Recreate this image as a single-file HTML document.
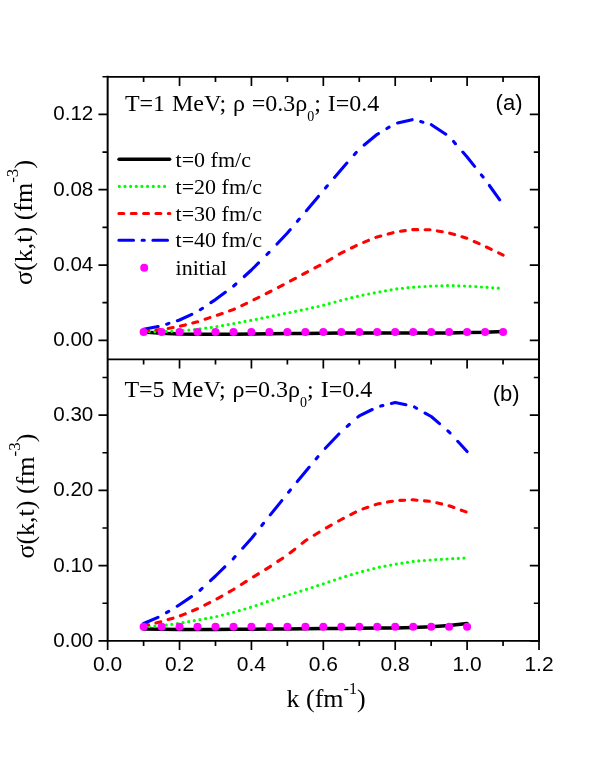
<!DOCTYPE html>
<html><head><meta charset="utf-8"><title>sigma(k,t)</title>
<style>html,body{margin:0;padding:0;background:#fff}svg{display:block;will-change:transform;opacity:.999}.s{font-family:"Liberation Sans",sans-serif}.r{font-family:"Liberation Serif",serif}</style></head><body>
<svg width="599" height="763" viewBox="0 0 599 763">
<rect width="599" height="763" fill="#fff"/>
<g fill="none" stroke-linecap="round" stroke-linejoin="round">
<polyline stroke="#000" stroke-width="3.5" points="143.6,332.0 161.6,333.2 179.5,334.0 197.5,334.3 215.5,334.3 233.5,334.2 251.4,334.0 269.4,333.8 287.4,333.6 305.4,333.4 323.3,333.2 341.3,333.1 359.3,333.0 377.2,333.0 395.2,333.0 413.2,333.0 431.2,333.0 449.1,332.9 467.1,332.6 485.1,332.2 503.1,331.4"/>
<path stroke="#00ff00" stroke-width="3.2" d="M143.6 331.5L143.6 331.5M149.2 331.5L149.2 331.5M154.9 331.6L154.9 331.6M154.9 331.6L154.9 331.6M160.5 331.6L160.5 331.6M160.5 331.6L160.6 331.6M166.2 331.4L166.2 331.4M171.8 331.3L171.8 331.3M171.8 331.3L171.8 331.3M177.5 331.1L177.5 331.1M183.1 330.6L183.1 330.6M183.1 330.6L183.1 330.6M188.8 330.1L188.8 330.1M188.8 330.1L188.8 330.1M194.4 329.5L194.4 329.5M200.0 328.9L200.0 328.9M205.7 328.1L205.7 328.1M205.7 328.1L205.7 328.1M211.3 327.4L211.3 327.4M211.3 327.4L211.3 327.4M216.9 326.6L216.9 326.6M222.5 325.6L222.5 325.6M222.5 325.6L222.6 325.6M228.2 324.6L228.2 324.6M228.2 324.6L228.2 324.6M233.8 323.6L233.8 323.6M239.4 322.5L239.4 322.5M239.4 322.5L239.4 322.5M245.0 321.4L245.0 321.4M250.7 320.4L250.7 320.3M256.3 319.3L256.3 319.3M256.3 319.3L256.3 319.3M261.9 318.2L261.9 318.2M267.5 317.1L267.5 317.1M267.5 317.1L267.5 317.1M273.2 315.9L273.2 315.9M278.8 314.8L278.8 314.8M278.8 314.8L278.8 314.8M284.4 313.6L284.4 313.6M284.4 313.6L284.4 313.6M290.0 312.5L290.0 312.5M295.6 311.3L295.6 311.3M301.3 310.1L301.3 310.1M306.9 309.0L306.9 309.0M306.9 309.0L306.9 309.0M312.5 307.7L312.5 307.7M312.5 307.7L312.5 307.7M318.1 306.5L318.1 306.5M318.1 306.5L318.1 306.5M323.7 305.2L323.7 305.2M329.3 303.6L329.3 303.6M335.0 302.1L335.0 302.1M335.0 302.1L335.0 302.1M340.6 300.5L340.6 300.5M340.6 300.5L340.6 300.5M346.2 299.1L346.2 299.1M346.2 299.1L346.2 299.1M351.8 297.7L351.8 297.7M357.4 296.3L357.4 296.3M363.0 295.1L363.0 295.1M368.7 294.0L368.7 294.0M368.7 294.0L368.7 294.0M374.3 292.9L374.3 292.9M374.3 292.9L374.3 292.9M379.9 291.8L379.9 291.8M385.5 290.8L385.5 290.8M391.1 289.8L391.1 289.8M396.8 288.9L396.8 288.9M396.8 288.9L396.8 288.9M402.4 288.3L402.4 288.3M402.4 288.3L402.4 288.3M408.0 287.7L408.0 287.7M413.7 287.2L413.7 287.2M419.3 286.8L419.3 286.8M419.3 286.8L419.3 286.8M425.0 286.5L425.0 286.5M430.6 286.1L430.6 286.1M430.6 286.1L430.6 286.1M436.3 286.0L436.3 286.0M441.9 285.8L441.9 285.8M447.5 285.6L447.5 285.6M447.5 285.6L447.6 285.6M453.2 285.7L453.2 285.7M458.8 285.9L458.8 285.9M458.8 285.9L458.8 285.9M464.5 286.0L464.5 286.0M470.1 286.3L470.1 286.3M475.8 286.6L475.8 286.6M475.8 286.6L475.8 286.6M481.4 287.0L481.4 287.0M487.0 287.3L487.1 287.3M487.1 287.3L487.1 287.3M492.7 287.8L492.7 287.8M498.3 288.2L498.3 288.2M498.3 288.2L498.3 288.2"/>
<path stroke="#ff0000" stroke-width="3.1" d="M143.6 331.0L148.5 330.6M155.9 330.0L160.8 329.6M160.8 329.6L160.8 329.6M168.2 328.4L173.1 327.5M173.1 327.5L173.1 327.5M180.5 326.1L185.4 324.9M185.4 324.9L185.4 324.9M192.8 322.9L197.5 321.7L197.7 321.7M197.7 321.7L197.7 321.7M205.1 319.2L209.9 317.6M209.9 317.6L209.9 317.6M217.3 315.2L222.2 313.5M229.5 310.9L233.5 309.5L234.4 309.1M234.4 309.1L234.4 309.1M241.8 305.6L246.6 303.3M254.0 299.7L258.8 297.3M258.8 297.3L258.8 297.3M266.2 293.6L269.4 292.0L271.0 291.2M271.0 291.2L271.0 291.2M278.4 287.3L283.2 284.8M290.5 280.9L295.4 278.3M302.7 274.4L305.4 273.0L307.6 271.8M307.6 271.8L307.6 271.8M314.9 267.9L319.8 265.4M319.8 265.4L319.8 265.4M327.1 261.3L331.9 258.5M339.3 254.2L341.3 253.0L344.1 251.6M351.5 248.0L356.3 245.6M356.3 245.6L356.3 245.6M363.7 242.4L368.5 240.4M368.5 240.4L368.5 240.4M375.9 237.4L377.2 236.9L380.8 236.0M388.2 234.0L393.0 232.7M400.5 231.3L405.3 230.6M412.8 229.6L413.2 229.5L417.7 229.6M417.7 229.6L417.7 229.6M425.1 229.7L430.0 229.8M437.4 230.9L442.3 231.8M442.3 231.8L442.3 231.8M449.7 233.2L454.6 234.6M454.6 234.6L454.6 234.6M462.0 236.8L466.8 238.2M474.2 241.5L479.1 243.6M479.1 243.6L479.1 243.6M486.4 247.0L491.3 249.3M498.6 252.9L503.1 255.1"/>
<path stroke="#0000ff" stroke-width="3.1" d="M143.6 329.2L158.1 326.5M166.7 324.2L168.9 323.4M177.4 320.7L179.5 320.0L191.8 314.3M200.3 309.7L202.5 308.3M210.9 302.6L215.5 299.6L225.3 292.3M225.3 292.3L225.3 292.3M233.7 286.0L235.9 284.0M244.3 276.5L251.4 270.0L258.5 262.9M258.5 262.9L258.5 262.9M266.9 254.5L269.0 252.4M277.0 244.0L287.4 233.0L290.2 229.7M290.2 229.7L290.2 229.7M297.4 221.3L299.3 219.1M306.4 210.7L318.4 196.4M318.4 196.4L318.4 196.4M325.5 188.0L327.3 185.8M334.5 177.4L341.3 169.5L346.9 163.1M346.9 163.1L346.9 163.1M354.3 154.7L356.2 152.5M364.2 145.0L377.2 134.3L378.5 133.6M378.5 133.6L378.5 133.6M386.9 128.5L389.1 127.2M389.1 127.2L389.1 127.2M397.6 123.0L412.1 119.7M420.7 121.6L422.9 122.2M422.9 122.2L422.9 122.2M431.4 124.7L445.8 134.2M453.6 141.5L455.4 143.7M455.4 143.7L455.5 143.7M462.8 152.1L467.1 157.0L474.6 166.4M481.4 174.9L483.1 177.0M483.1 177.0L483.1 177.0M489.4 185.5L499.7 199.8"/>
<polyline stroke="#000" stroke-width="3.5" points="143.6,628.9 161.6,629.3 179.5,629.4 197.5,629.4 215.5,629.4 233.5,629.3 251.4,629.2 269.4,629.1 287.4,629.0 305.4,628.8 323.3,628.6 341.3,628.4 359.3,628.2 377.2,628.1 395.2,628.0 413.2,627.5 431.2,626.7 449.1,625.4 467.1,623.4"/>
<path stroke="#00ff00" stroke-width="3.2" d="M143.6 626.5L143.6 626.5M149.2 626.3L149.2 626.3M154.9 626.1L154.9 626.1M154.9 626.1L154.9 626.1M160.5 625.8L160.5 625.8M160.5 625.8L160.5 625.8M166.2 625.1L166.2 625.1M171.8 624.3L171.8 624.3M171.8 624.3L171.8 624.3M177.4 623.5L177.4 623.5M183.0 622.6L183.0 622.6M183.0 622.6L183.1 622.6M188.7 621.7L188.7 621.7M188.7 621.7L188.7 621.7M194.3 620.7L194.3 620.7M199.9 619.7L199.9 619.7M205.6 618.7L205.6 618.7M205.6 618.7L205.6 618.7M211.2 617.6L211.2 617.6M211.2 617.6L211.2 617.6M216.8 616.5L216.8 616.5M222.4 615.1L222.4 615.1M222.4 615.1L222.4 615.1M228.0 613.7L228.0 613.7M228.0 613.7L228.0 613.7M233.6 612.3L233.6 612.3M239.2 610.7L239.3 610.7M239.3 610.7L239.3 610.7M244.9 609.0L244.9 609.0M250.5 607.3L250.5 607.3M256.1 605.5L256.1 605.5M256.1 605.5L256.1 605.5M261.7 603.6L261.7 603.6M267.3 601.7L267.3 601.7M267.3 601.7L267.3 601.7M272.9 599.9L272.9 599.9M278.5 598.1L278.5 598.1M278.5 598.1L278.5 598.1M284.1 596.3L284.1 596.3M284.1 596.3L284.1 596.3M289.7 594.5L289.7 594.5M295.3 592.8L295.3 592.8M300.9 591.1L300.9 591.1M306.5 589.3L306.5 589.3M306.5 589.3L306.5 589.3M312.1 587.5L312.1 587.5M312.1 587.5L312.1 587.5M317.7 585.6L317.7 585.6M317.7 585.6L317.7 585.6M323.3 583.8L323.3 583.8M328.9 581.9L328.9 581.9M334.5 580.1L334.5 580.1M334.5 580.1L334.5 580.1M340.1 578.2L340.1 578.2M340.1 578.2L340.1 578.2M345.7 576.4L345.7 576.4M345.7 576.4L345.8 576.4M351.4 574.7L351.4 574.7M357.0 573.0L357.0 573.0M362.6 571.4L362.6 571.4M368.2 570.0L368.2 570.0M368.2 570.0L368.2 570.0M373.8 568.5L373.8 568.5M373.8 568.5L373.8 568.5M379.4 567.2L379.4 567.2M385.0 566.2L385.0 566.2M390.7 565.1L390.7 565.1M396.3 564.1L396.3 564.1M396.3 564.1L396.3 564.1M401.9 563.2L401.9 563.2M401.9 563.2L401.9 563.2M407.5 562.3L407.5 562.3M413.2 561.4L413.2 561.4M418.8 560.9L418.8 560.9M418.8 560.9L418.8 560.9M424.4 560.5L424.4 560.5M430.1 560.0L430.1 560.0M430.1 560.0L430.1 560.0M435.7 559.6L435.7 559.6M441.4 559.3L441.4 559.3M447.0 559.0L447.0 559.0M447.0 559.0L447.0 559.0M452.7 558.7L452.7 558.7M458.3 558.4L458.3 558.4M458.3 558.4L458.3 558.4M463.9 558.1L463.9 558.1"/>
<path stroke="#ff0000" stroke-width="3.1" d="M143.6 625.8L148.5 624.7M155.9 622.9L160.7 621.8M160.7 621.8L160.8 621.8M168.1 619.6L173.0 618.2M173.0 618.2L173.0 618.2M180.4 615.8L185.2 613.9M185.2 613.9L185.3 613.9M192.6 610.8L197.5 608.8M197.5 608.8L197.5 608.8M204.8 605.1L209.7 602.6M209.7 602.6L209.7 602.6M217.0 598.8L221.9 596.1M229.2 591.9L233.5 589.5L234.0 589.1M234.0 589.1L234.0 589.1M241.4 584.5L246.2 581.4M253.5 576.8L258.3 573.9M258.3 573.9L258.4 573.9M265.7 569.4L269.4 567.1L270.5 566.4M270.5 566.4L270.5 566.4M277.8 561.4L282.7 558.2M290.0 552.9L294.8 549.2M302.1 543.4L305.4 540.8L306.9 539.8M306.9 539.8L306.9 539.8M314.2 535.2L319.1 532.2M319.1 532.2L319.1 532.2M326.4 527.8L331.2 525.1M338.6 521.0L341.3 519.5L343.4 518.4M350.8 514.6L355.6 512.1M355.6 512.1L355.6 512.1M363.0 508.9L367.8 507.3M367.8 507.3L367.8 507.3M375.2 504.8L377.2 504.1L380.1 503.5M387.5 502.1L392.4 501.2M399.8 500.4L404.7 500.2M412.1 499.8L413.2 499.8L417.0 500.2M417.0 500.2L417.0 500.2M424.5 500.9L429.4 501.3M436.8 502.8L441.6 503.9M441.6 503.9L441.7 503.9M449.0 505.7L449.1 505.7L453.9 507.5M453.9 507.5L453.9 507.5M461.3 510.2L466.1 511.9"/>
<path stroke="#0000ff" stroke-width="3.1" d="M143.6 623.5L158.0 617.3M166.5 612.7L168.7 611.4M177.2 606.2L179.5 604.7L191.5 596.6M200.0 590.3L202.1 588.3M210.5 580.6L215.5 576.0L224.8 566.9M224.8 566.9L224.8 566.9M233.2 558.8L233.5 558.5L235.1 556.6M242.7 548.2L251.4 538.5L255.1 533.9M255.1 533.9L255.1 533.9M261.8 525.5L263.5 523.3M270.3 514.9L281.8 500.6M281.8 500.6L281.8 500.6M288.6 492.2L290.4 490.0M297.3 481.6L305.4 471.7L309.1 467.3M309.1 467.3L309.1 467.3M316.1 458.9L317.9 456.7M325.3 448.3L338.9 434.0M338.9 434.0L338.9 434.0M347.2 426.4L349.3 424.5M357.8 417.1L359.3 415.8L372.2 409.5M372.2 409.5L372.2 409.5M380.7 406.1L382.9 405.6M382.9 405.6L382.9 405.6M391.4 403.4L395.2 402.4L405.9 404.7M414.5 407.0L416.6 408.3M416.6 408.3L416.6 408.3M425.1 413.1L431.2 416.5L439.5 423.7M447.9 430.9L449.1 432.0L450.0 432.9M450.0 432.9L450.0 432.9M457.7 441.3L467.1 451.5"/>
<path stroke="#000" stroke-width="3.6" d="M119.1 159.3H169.6"/>
<path stroke="#00ff00" stroke-width="3.2" stroke-dasharray="0.01 5.65" d="M119.3 186.4H166"/>
<path stroke="#ff0000" stroke-width="3.1" stroke-dasharray="4.9 7.45" d="M118.9 213.5H169.85"/>
<path stroke="#0000ff" stroke-width="3.1" stroke-dasharray="14.6 8.6 2.2 8.6" d="M118.9 240.3H167.5"/>
</g>
<g fill="#ff00ff">
<circle cx="143.6" cy="331.9" r="4"/>
<circle cx="161.6" cy="331.9" r="4"/>
<circle cx="179.5" cy="331.9" r="4"/>
<circle cx="197.5" cy="331.9" r="4"/>
<circle cx="215.5" cy="331.9" r="4"/>
<circle cx="233.5" cy="331.9" r="4"/>
<circle cx="251.4" cy="331.9" r="4"/>
<circle cx="269.4" cy="331.9" r="4"/>
<circle cx="287.4" cy="331.9" r="4"/>
<circle cx="305.4" cy="331.9" r="4"/>
<circle cx="323.3" cy="331.9" r="4"/>
<circle cx="341.3" cy="331.9" r="4"/>
<circle cx="359.3" cy="331.9" r="4"/>
<circle cx="377.2" cy="331.9" r="4"/>
<circle cx="395.2" cy="331.9" r="4"/>
<circle cx="413.2" cy="331.9" r="4"/>
<circle cx="431.2" cy="331.9" r="4"/>
<circle cx="449.1" cy="331.9" r="4"/>
<circle cx="467.1" cy="331.9" r="4"/>
<circle cx="485.1" cy="331.9" r="4"/>
<circle cx="503.1" cy="331.9" r="4"/>
<circle cx="143.6" cy="626.7" r="4"/>
<circle cx="161.6" cy="626.7" r="4"/>
<circle cx="179.5" cy="626.7" r="4"/>
<circle cx="197.5" cy="626.7" r="4"/>
<circle cx="215.5" cy="626.7" r="4"/>
<circle cx="233.5" cy="626.7" r="4"/>
<circle cx="251.4" cy="626.7" r="4"/>
<circle cx="269.4" cy="626.7" r="4"/>
<circle cx="287.4" cy="626.7" r="4"/>
<circle cx="305.4" cy="626.7" r="4"/>
<circle cx="323.3" cy="626.7" r="4"/>
<circle cx="341.3" cy="626.7" r="4"/>
<circle cx="359.3" cy="626.7" r="4"/>
<circle cx="377.2" cy="626.7" r="4"/>
<circle cx="395.2" cy="626.7" r="4"/>
<circle cx="413.2" cy="626.7" r="4"/>
<circle cx="431.2" cy="626.7" r="4"/>
<circle cx="449.1" cy="626.7" r="4"/>
<circle cx="467.1" cy="626.7" r="4"/>
<circle cx="144.2" cy="267.7" r="4"/>
</g>
<g stroke="#000" fill="none">
<g stroke-width="2">
<path d="M107.65 75.80V641.90"/>
<path d="M539.00 75.80V641.90"/>
<path d="M107.65 76.80H539.00" stroke-width="1.8"/>
<path d="M107.65 359.30H539.00" stroke-width="1.8"/>
<path d="M107.65 640.90H539.00" stroke-width="1.8"/>
</g>
<path stroke-width="1.7" d="M107.65 640.90v9.2M143.60 76.80v5.2M143.60 359.30v5.2M143.60 640.90v5.2M179.54 76.80v9.2M179.54 359.30v9.2M179.54 640.90v9.2M215.49 76.80v5.2M215.49 359.30v5.2M215.49 640.90v5.2M251.43 76.80v9.2M251.43 359.30v9.2M251.43 640.90v9.2M287.38 76.80v5.2M287.38 359.30v5.2M287.38 640.90v5.2M323.33 76.80v9.2M323.33 359.30v9.2M323.33 640.90v9.2M359.27 76.80v5.2M359.27 359.30v5.2M359.27 640.90v5.2M395.22 76.80v9.2M395.22 359.30v9.2M395.22 640.90v9.2M431.16 76.80v5.2M431.16 359.30v5.2M431.16 640.90v5.2M467.11 76.80v9.2M467.11 359.30v9.2M467.11 640.90v9.2M503.05 76.80v5.2M503.05 359.30v5.2M503.05 640.90v5.2M539.00 640.90v9.2M107.65 340.35h-9.2M539.00 340.35h-9.2M107.65 302.69h-5.2M539.00 302.69h-5.2M107.65 265.03h-9.2M539.00 265.03h-9.2M107.65 227.37h-5.2M539.00 227.37h-5.2M107.65 189.71h-9.2M539.00 189.71h-9.2M107.65 152.05h-5.2M539.00 152.05h-5.2M107.65 114.39h-9.2M539.00 114.39h-9.2M107.65 76.73h-5.2M539.00 76.73h-5.2M107.65 640.90h-9.2M539.00 640.90h-9.2M107.65 603.27h-5.2M539.00 603.27h-5.2M107.65 565.64h-9.2M539.00 565.64h-9.2M107.65 528.01h-5.2M539.00 528.01h-5.2M107.65 490.38h-9.2M539.00 490.38h-9.2M107.65 452.75h-5.2M539.00 452.75h-5.2M107.65 415.12h-9.2M539.00 415.12h-9.2M107.65 377.49h-5.2M539.00 377.49h-5.2"/>
</g>
<g class="s" font-size="20" fill="#000">
<g text-anchor="end">
<text transform="translate(93.3 346.4) scale(1.03 1)">0.00</text>
<text transform="translate(93.3 271.0) scale(1.03 1)">0.04</text>
<text transform="translate(93.3 195.7) scale(1.03 1)">0.08</text>
<text transform="translate(93.3 120.4) scale(1.03 1)">0.12</text>
<text transform="translate(93.3 646.9) scale(1.03 1)">0.00</text>
<text transform="translate(93.3 571.6) scale(1.03 1)">0.10</text>
<text transform="translate(93.3 496.4) scale(1.03 1)">0.20</text>
<text transform="translate(93.3 421.1) scale(1.03 1)">0.30</text>
</g><g text-anchor="middle">
<text transform="translate(107.7 670.7) scale(1.05 1)">0.0</text>
<text transform="translate(179.5 670.7) scale(1.05 1)">0.2</text>
<text transform="translate(251.4 670.7) scale(1.05 1)">0.4</text>
<text transform="translate(323.3 670.7) scale(1.05 1)">0.6</text>
<text transform="translate(395.2 670.7) scale(1.05 1)">0.8</text>
<text transform="translate(467.1 670.7) scale(1.05 1)">1.0</text>
<text transform="translate(539.0 670.7) scale(1.05 1)">1.2</text>
</g></g>
<g class="s" font-size="22" fill="#000">
<text x="495.6" y="109.6">(a)</text>
<text x="492.7" y="401">(b)</text>
</g>
<g class="r" fill="#000">
<g font-size="24">
<text x="124.9" y="110.9" word-spacing="0.8">T=1 MeV; ρ =0.3ρ<tspan font-size="14" dy="10">0</tspan><tspan dy="-10">; I=0.4</tspan></text>
<text x="124.4" y="397.4" word-spacing="0.9">T=5 MeV; ρ=0.3ρ<tspan font-size="14" dy="10">0</tspan><tspan dy="-10">; I=0.4</tspan></text>
</g><g font-size="22">
<text x="175.6" y="167.0">t=0 fm/c</text>
<text x="175.6" y="193.7">t=20 fm/c</text>
<text x="175.6" y="220.9">t=30 fm/c</text>
<text x="175.6" y="247.2">t=40 fm/c</text>
<text x="175.6" y="274.6">initial</text>
</g>
<g font-size="26">
<text x="286.5" y="707.1">k (fm<tspan font-size="16" dy="-13.4">-1</tspan><tspan dy="13.4">)</tspan></text>
<text transform="translate(32.2 284.9) rotate(-90)">σ(k,t) (fm<tspan font-size="17" dy="-14.3">-3</tspan><tspan dy="14.3">)</tspan></text>
<text transform="translate(34.1 558.6) rotate(-90)">σ(k,t) (fm<tspan font-size="17" dy="-14.3">-3</tspan><tspan dy="14.3">)</tspan></text>
</g></g>
</svg></body></html>
